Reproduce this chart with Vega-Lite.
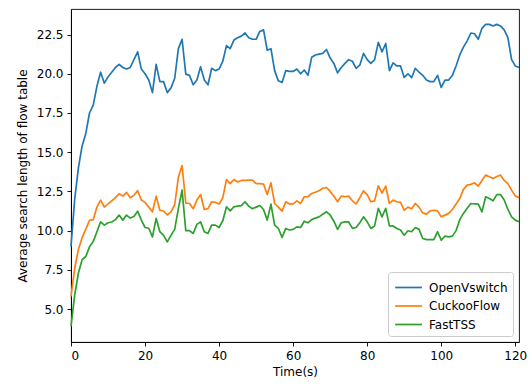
{
  "$schema": "https://vega.github.io/schema/vega-lite/v6.json",
  "autosize": {"type": "none"},
  "width": 448,
  "height": 333,
  "padding": {"left": 71, "top": 9, "right": 13, "bottom": 44},
  "config": {
    "font": "DejaVu Sans",
    "view": {"stroke": "black", "strokeWidth": 0.9},
    "axis": {
      "grid": false,
      "domainColor": "black",
      "domainWidth": 0.9,
      "tickColor": "black",
      "tickWidth": 0.9,
      "tickSize": 4,
      "labelFontSize": 12,
      "labelColor": "black",
      "labelPadding": 4,
      "titleFontSize": 12,
      "titleFontWeight": "normal",
      "titleColor": "black"
    }
  },
  "data": {
    "values": [
      {"t":0,"OpenVswitch":9.0,"CuckooFlow":5.8,"FastTSS":3.9},
      {"t":1,"OpenVswitch":12.0,"CuckooFlow":7.6,"FastTSS":5.9},
      {"t":2,"OpenVswitch":14.0,"CuckooFlow":8.8,"FastTSS":7.3},
      {"t":3,"OpenVswitch":15.4,"CuckooFlow":9.55,"FastTSS":8.15},
      {"t":4,"OpenVswitch":16.2,"CuckooFlow":10.1,"FastTSS":8.35},
      {"t":5,"OpenVswitch":17.5,"CuckooFlow":10.65,"FastTSS":8.97},
      {"t":6,"OpenVswitch":18.0,"CuckooFlow":10.7,"FastTSS":9.3},
      {"t":7,"OpenVswitch":19.2,"CuckooFlow":11.5,"FastTSS":9.93},
      {"t":8,"OpenVswitch":20.1,"CuckooFlow":11.95,"FastTSS":10.56},
      {"t":9,"OpenVswitch":19.4,"CuckooFlow":11.5,"FastTSS":10.35},
      {"t":10,"OpenVswitch":19.8,"CuckooFlow":11.7,"FastTSS":10.5},
      {"t":11,"OpenVswitch":20.1,"CuckooFlow":11.9,"FastTSS":10.55},
      {"t":12,"OpenVswitch":20.4,"CuckooFlow":12.1,"FastTSS":10.7},
      {"t":13,"OpenVswitch":20.6,"CuckooFlow":12.35,"FastTSS":10.99},
      {"t":14,"OpenVswitch":20.4,"CuckooFlow":12.2,"FastTSS":10.67},
      {"t":15,"OpenVswitch":20.3,"CuckooFlow":12.44,"FastTSS":10.99},
      {"t":16,"OpenVswitch":20.4,"CuckooFlow":12.1,"FastTSS":10.8},
      {"t":17,"OpenVswitch":20.9,"CuckooFlow":12.25,"FastTSS":10.9},
      {"t":18,"OpenVswitch":21.4,"CuckooFlow":12.55,"FastTSS":11.24},
      {"t":19,"OpenVswitch":20.3,"CuckooFlow":11.95,"FastTSS":10.67},
      {"t":20,"OpenVswitch":20.0,"CuckooFlow":11.8,"FastTSS":10.2},
      {"t":21,"OpenVswitch":19.6,"CuckooFlow":11.5,"FastTSS":10.15},
      {"t":22,"OpenVswitch":18.8,"CuckooFlow":11.2,"FastTSS":9.6},
      {"t":23,"OpenVswitch":20.6,"CuckooFlow":12.2,"FastTSS":10.78},
      {"t":24,"OpenVswitch":19.5,"CuckooFlow":11.3,"FastTSS":9.93},
      {"t":25,"OpenVswitch":19.5,"CuckooFlow":11.25,"FastTSS":9.7},
      {"t":26,"OpenVswitch":18.8,"CuckooFlow":11.0,"FastTSS":9.28},
      {"t":27,"OpenVswitch":19.1,"CuckooFlow":11.2,"FastTSS":9.7},
      {"t":28,"OpenVswitch":19.7,"CuckooFlow":11.65,"FastTSS":10.08},
      {"t":29,"OpenVswitch":21.6,"CuckooFlow":13.4,"FastTSS":11.4},
      {"t":30,"OpenVswitch":22.2,"CuckooFlow":14.15,"FastTSS":12.58},
      {"t":31,"OpenVswitch":19.98,"CuckooFlow":11.75,"FastTSS":10.0},
      {"t":32,"OpenVswitch":19.9,"CuckooFlow":11.73,"FastTSS":10.0},
      {"t":33,"OpenVswitch":19.3,"CuckooFlow":11.4,"FastTSS":9.82},
      {"t":34,"OpenVswitch":19.6,"CuckooFlow":11.95,"FastTSS":10.4},
      {"t":35,"OpenVswitch":20.45,"CuckooFlow":12.3,"FastTSS":10.56},
      {"t":36,"OpenVswitch":19.6,"CuckooFlow":11.35,"FastTSS":9.93},
      {"t":37,"OpenVswitch":19.3,"CuckooFlow":11.4,"FastTSS":9.82},
      {"t":38,"OpenVswitch":20.35,"CuckooFlow":11.84,"FastTSS":10.35},
      {"t":39,"OpenVswitch":20.2,"CuckooFlow":11.8,"FastTSS":10.35},
      {"t":40,"OpenVswitch":20.3,"CuckooFlow":11.7,"FastTSS":10.2},
      {"t":41,"OpenVswitch":20.8,"CuckooFlow":12.1,"FastTSS":10.63},
      {"t":42,"OpenVswitch":21.8,"CuckooFlow":13.26,"FastTSS":11.52},
      {"t":43,"OpenVswitch":21.6,"CuckooFlow":13.0,"FastTSS":11.26},
      {"t":44,"OpenVswitch":22.15,"CuckooFlow":13.26,"FastTSS":11.52},
      {"t":45,"OpenVswitch":22.3,"CuckooFlow":13.1,"FastTSS":11.56},
      {"t":46,"OpenVswitch":22.4,"CuckooFlow":13.2,"FastTSS":11.6},
      {"t":47,"OpenVswitch":22.6,"CuckooFlow":13.2,"FastTSS":11.84},
      {"t":48,"OpenVswitch":22.3,"CuckooFlow":13.22,"FastTSS":11.56},
      {"t":49,"OpenVswitch":22.2,"CuckooFlow":13.22,"FastTSS":11.4},
      {"t":50,"OpenVswitch":22.2,"CuckooFlow":13.0,"FastTSS":11.5},
      {"t":51,"OpenVswitch":22.7,"CuckooFlow":13.0,"FastTSS":11.6},
      {"t":52,"OpenVswitch":22.8,"CuckooFlow":12.97,"FastTSS":11.35},
      {"t":53,"OpenVswitch":21.5,"CuckooFlow":12.3,"FastTSS":10.67},
      {"t":54,"OpenVswitch":21.6,"CuckooFlow":13.05,"FastTSS":11.69},
      {"t":55,"OpenVswitch":20.2,"CuckooFlow":11.73,"FastTSS":10.35},
      {"t":56,"OpenVswitch":19.55,"CuckooFlow":11.5,"FastTSS":10.15},
      {"t":57,"OpenVswitch":19.45,"CuckooFlow":11.24,"FastTSS":9.57},
      {"t":58,"OpenVswitch":20.2,"CuckooFlow":11.84,"FastTSS":10.14},
      {"t":59,"OpenVswitch":20.15,"CuckooFlow":11.7,"FastTSS":10.04},
      {"t":60,"OpenVswitch":20.15,"CuckooFlow":11.7,"FastTSS":10.08},
      {"t":61,"OpenVswitch":20.3,"CuckooFlow":11.9,"FastTSS":10.24},
      {"t":62,"OpenVswitch":20.0,"CuckooFlow":11.73,"FastTSS":10.2},
      {"t":63,"OpenVswitch":20.24,"CuckooFlow":12.16,"FastTSS":10.6},
      {"t":64,"OpenVswitch":19.9,"CuckooFlow":12.16,"FastTSS":10.5},
      {"t":65,"OpenVswitch":21.05,"CuckooFlow":12.37,"FastTSS":10.7},
      {"t":66,"OpenVswitch":21.2,"CuckooFlow":12.45,"FastTSS":10.8},
      {"t":67,"OpenVswitch":21.25,"CuckooFlow":12.54,"FastTSS":10.88},
      {"t":68,"OpenVswitch":21.3,"CuckooFlow":12.7,"FastTSS":11.05},
      {"t":69,"OpenVswitch":21.55,"CuckooFlow":12.75,"FastTSS":11.2},
      {"t":70,"OpenVswitch":21.0,"CuckooFlow":12.5,"FastTSS":11.0},
      {"t":71,"OpenVswitch":20.66,"CuckooFlow":12.2,"FastTSS":10.6},
      {"t":72,"OpenVswitch":20.06,"CuckooFlow":11.84,"FastTSS":10.08},
      {"t":73,"OpenVswitch":20.4,"CuckooFlow":12.2,"FastTSS":10.5},
      {"t":74,"OpenVswitch":20.66,"CuckooFlow":12.16,"FastTSS":10.56},
      {"t":75,"OpenVswitch":20.9,"CuckooFlow":12.2,"FastTSS":10.56},
      {"t":76,"OpenVswitch":20.8,"CuckooFlow":11.9,"FastTSS":10.14},
      {"t":77,"OpenVswitch":20.35,"CuckooFlow":11.7,"FastTSS":10.2},
      {"t":78,"OpenVswitch":20.55,"CuckooFlow":12.1,"FastTSS":10.5},
      {"t":79,"OpenVswitch":21.3,"CuckooFlow":12.54,"FastTSS":10.88},
      {"t":80,"OpenVswitch":20.9,"CuckooFlow":12.3,"FastTSS":10.56},
      {"t":81,"OpenVswitch":20.66,"CuckooFlow":11.84,"FastTSS":10.14},
      {"t":82,"OpenVswitch":20.9,"CuckooFlow":11.9,"FastTSS":10.3},
      {"t":83,"OpenVswitch":22.0,"CuckooFlow":12.86,"FastTSS":11.42},
      {"t":84,"OpenVswitch":21.4,"CuckooFlow":12.4,"FastTSS":10.88},
      {"t":85,"OpenVswitch":21.93,"CuckooFlow":12.84,"FastTSS":11.42},
      {"t":86,"OpenVswitch":20.2,"CuckooFlow":11.73,"FastTSS":10.3},
      {"t":87,"OpenVswitch":20.7,"CuckooFlow":11.95,"FastTSS":10.3},
      {"t":88,"OpenVswitch":20.5,"CuckooFlow":11.84,"FastTSS":10.14},
      {"t":89,"OpenVswitch":20.5,"CuckooFlow":11.8,"FastTSS":10.04},
      {"t":90,"OpenVswitch":19.77,"CuckooFlow":11.3,"FastTSS":9.71},
      {"t":91,"OpenVswitch":20.0,"CuckooFlow":11.5,"FastTSS":9.99},
      {"t":92,"OpenVswitch":19.75,"CuckooFlow":11.4,"FastTSS":9.93},
      {"t":93,"OpenVswitch":20.35,"CuckooFlow":11.73,"FastTSS":10.2},
      {"t":94,"OpenVswitch":20.1,"CuckooFlow":11.5,"FastTSS":10.08},
      {"t":95,"OpenVswitch":19.9,"CuckooFlow":11.13,"FastTSS":9.5},
      {"t":96,"OpenVswitch":19.6,"CuckooFlow":11.05,"FastTSS":9.43},
      {"t":97,"OpenVswitch":19.5,"CuckooFlow":11.26,"FastTSS":9.43},
      {"t":98,"OpenVswitch":19.5,"CuckooFlow":11.3,"FastTSS":9.43},
      {"t":99,"OpenVswitch":19.9,"CuckooFlow":11.26,"FastTSS":9.93},
      {"t":100,"OpenVswitch":19.13,"CuckooFlow":10.88,"FastTSS":9.39},
      {"t":101,"OpenVswitch":19.6,"CuckooFlow":10.99,"FastTSS":9.65},
      {"t":102,"OpenVswitch":19.6,"CuckooFlow":11.1,"FastTSS":9.6},
      {"t":103,"OpenVswitch":19.9,"CuckooFlow":11.35,"FastTSS":9.65},
      {"t":104,"OpenVswitch":20.5,"CuckooFlow":11.7,"FastTSS":10.0},
      {"t":105,"OpenVswitch":21.2,"CuckooFlow":12.05,"FastTSS":10.7},
      {"t":106,"OpenVswitch":21.7,"CuckooFlow":12.63,"FastTSS":11.1},
      {"t":107,"OpenVswitch":22.1,"CuckooFlow":12.9,"FastTSS":11.42},
      {"t":108,"OpenVswitch":22.6,"CuckooFlow":12.95,"FastTSS":11.73},
      {"t":109,"OpenVswitch":22.55,"CuckooFlow":13.05,"FastTSS":11.7},
      {"t":110,"OpenVswitch":22.2,"CuckooFlow":12.84,"FastTSS":11.69},
      {"t":111,"OpenVswitch":22.9,"CuckooFlow":13.2,"FastTSS":11.2},
      {"t":112,"OpenVswitch":23.15,"CuckooFlow":13.54,"FastTSS":12.16},
      {"t":113,"OpenVswitch":23.15,"CuckooFlow":13.43,"FastTSS":12.05},
      {"t":114,"OpenVswitch":23.05,"CuckooFlow":13.33,"FastTSS":11.9},
      {"t":115,"OpenVswitch":23.15,"CuckooFlow":13.45,"FastTSS":12.3},
      {"t":116,"OpenVswitch":23.05,"CuckooFlow":13.54,"FastTSS":12.3},
      {"t":117,"OpenVswitch":22.8,"CuckooFlow":13.2,"FastTSS":11.95},
      {"t":118,"OpenVswitch":22.3,"CuckooFlow":13.0,"FastTSS":11.35},
      {"t":119,"OpenVswitch":20.9,"CuckooFlow":12.58,"FastTSS":10.88},
      {"t":120,"OpenVswitch":20.5,"CuckooFlow":12.2,"FastTSS":10.67},
      {"t":121,"OpenVswitch":20.4,"CuckooFlow":12.12,"FastTSS":10.56}
    ]
  },
  "transform": [
    {"fold": ["OpenVswitch", "CuckooFlow", "FastTSS"], "as": ["series", "value"]}
  ],
  "mark": {"type": "line", "strokeWidth": 1.7, "strokeJoin": "round"},
  "encoding": {
    "x": {
      "field": "t",
      "type": "quantitative",
      "scale": {"domain": [0, 121], "nice": false, "zero": false},
      "axis": {"values": [0, 20, 40, 60, 80, 100, 120], "title": "Time(s)", "titlePadding": 5}
    },
    "y": {
      "field": "value",
      "type": "quantitative",
      "scale": {"domain": [2.9, 24.13], "nice": false, "zero": false},
      "axis": {"values": [5, 7.5, 10, 12.5, 15, 17.5, 20, 22.5], "format": ".1f", "title": "Average search length of flow table", "titlePadding": 7}
    },
    "color": {
      "field": "series",
      "type": "nominal",
      "sort": ["OpenVswitch", "CuckooFlow", "FastTSS"],
      "scale": {"domain": ["OpenVswitch", "CuckooFlow", "FastTSS"], "range": ["#1f77b4", "#ff7f0e", "#2ca02c"]},
      "legend": {
        "title": null,
        "orient": "bottom-right",
        "offset": 6,
        "padding": 5,
        "fillColor": "rgba(255,255,255,0.8)",
        "strokeColor": "#cccccc",
        "cornerRadius": 3,
        "symbolType": "M-0.9,0H2",
        "symbolSize": 340,
        "symbolStrokeWidth": 1.7,
        "labelOffset": 15,
        "labelFontSize": 12,
        "labelColor": "black",
        "rowPadding": 1.5
      }
    }
  }
}
